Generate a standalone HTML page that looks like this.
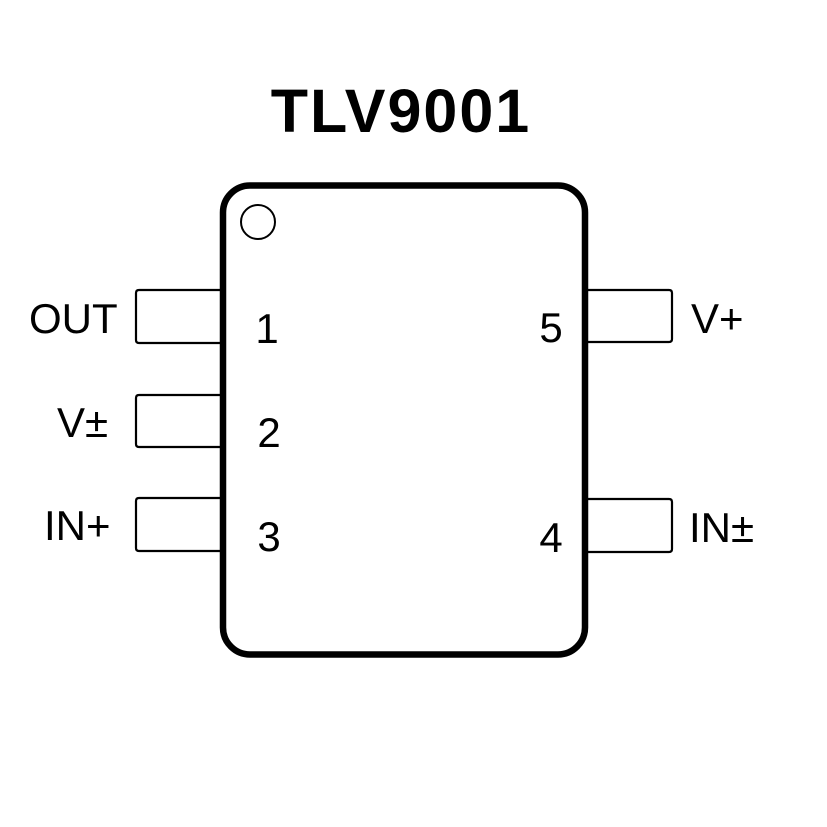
<!DOCTYPE html>
<html>
<head>
<meta charset="utf-8">
<style>
  html, body { margin: 0; padding: 0; background: #fff; }
  svg { display: block; }
  text { font-family: "Liberation Sans", Arial, sans-serif; fill: #000; }
</style>
</head>
<body>
<svg width="827" height="827" viewBox="0 0 827 827" xmlns="http://www.w3.org/2000/svg">
  <rect x="0" y="0" width="827" height="827" fill="#fff"/>

  <!-- Title -->
  <text x="401" y="132" font-size="61" font-weight="bold" text-anchor="middle" letter-spacing="2">TLV9001</text>

  <!-- Left pins -->
  <path d="M223 290 H139 Q136 290 136 293 V340 Q136 343 139 343 H223" fill="none" stroke="#000" stroke-width="2.2"/>
  <path d="M223 395 H139 Q136 395 136 398 V444 Q136 447 139 447 H223" fill="none" stroke="#000" stroke-width="2.2"/>
  <path d="M223 498 H139 Q136 498 136 501 V548 Q136 551 139 551 H223" fill="none" stroke="#000" stroke-width="2.2"/>

  <!-- Right pins -->
  <path d="M585 290 H669 Q672 290 672 293 V339 Q672 342 669 342 H585" fill="none" stroke="#000" stroke-width="2.2"/>
  <path d="M585 499 H669 Q672 499 672 502 V549 Q672 552 669 552 H585" fill="none" stroke="#000" stroke-width="2.2"/>

  <!-- Body -->
  <rect x="223" y="185.5" width="362" height="469" rx="27" ry="27" fill="#fff" stroke="#000" stroke-width="6.5"/>

  <!-- Pin 1 marker -->
  <circle cx="258" cy="222" r="17" fill="none" stroke="#000" stroke-width="2"/>

  <!-- Pin numbers -->
  <text x="267" y="343" font-size="42" text-anchor="middle">1</text>
  <text x="269" y="447" font-size="42" text-anchor="middle">2</text>
  <text x="269" y="551" font-size="42" text-anchor="middle">3</text>
  <text x="551" y="342" font-size="42" text-anchor="middle">5</text>
  <text x="551" y="552" font-size="42" text-anchor="middle">4</text>

  <!-- Pin names -->
  <text x="29" y="333" font-size="42">OUT</text>
  <text x="57" y="437" font-size="42">V±</text>
  <text x="44" y="540" font-size="42">IN+</text>
  <text x="691" y="333" font-size="42">V+</text>
  <text x="689" y="542" font-size="42">IN±</text>
</svg>
</body>
</html>
